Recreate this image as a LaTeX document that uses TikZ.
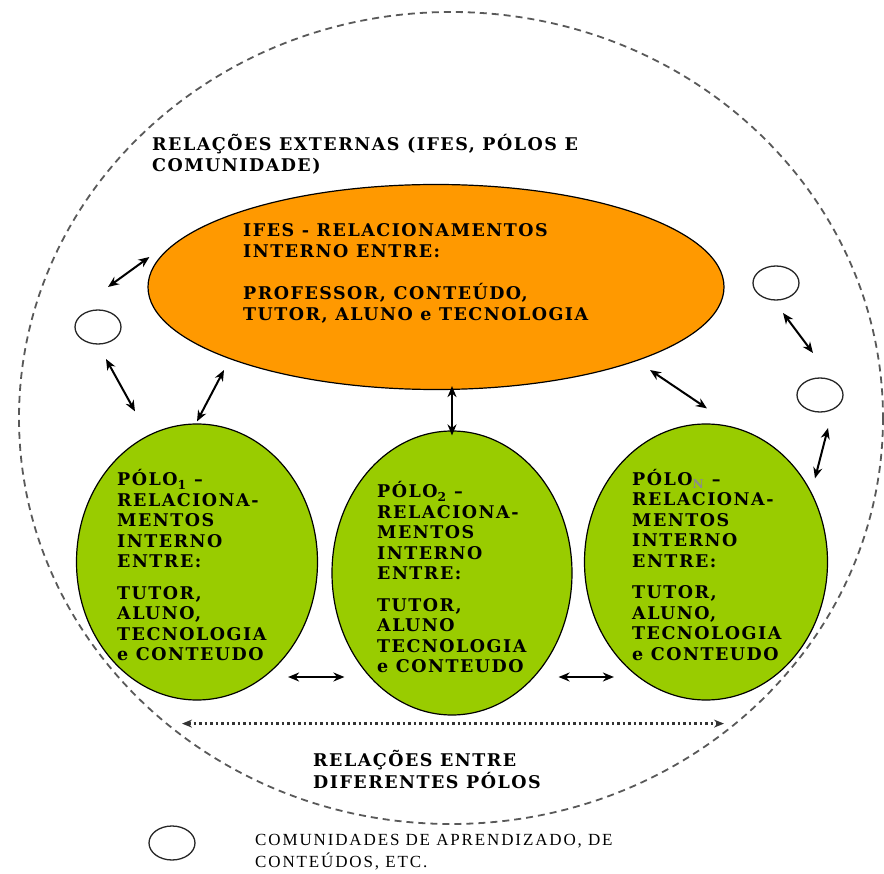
\documentclass[tikz,border=0pt]{standalone}
\usepackage{fontspec}
\usetikzlibrary{shapes.geometric,calc,arrows.meta}
\newfontfamily\slab[LetterSpace=8.5]{DejaVu Serif}
\newfontfamily\thinf[LetterSpace=11]{Liberation Serif}
\definecolor{orng}{HTML}{FF9900}
\definecolor{grn}{HTML}{99CC00}
\tikzset{
  bigov/.style={ellipse, draw=black, line width=1.2pt, inner sep=0pt},
  lbl/.style={anchor=north west, align=left, inner sep=0pt,
    font=\slab\bfseries\fontsize{17.5}{20.5}\selectfont},
  ring/.style={ellipse, draw=black!85, line width=1.3pt, minimum width=46pt, minimum height=34pt, inner sep=0pt},
  dbl/.style={{Stealth[length=11pt,width=9pt]}-{Stealth[length=11pt,width=9pt]}, line width=2pt},
}
\begin{document}
\begin{tikzpicture}[x=1pt,y=-1pt]
\useasboundingbox (0,0) rectangle (884,874);
% outer dashed boundary
\draw[black!65, line width=1.8pt, dash pattern=on 7pt off 5pt] (451,418) ellipse [x radius=432, y radius=406];

% main shapes
\node[bigov, fill=orng, minimum width=576pt, minimum height=205pt] (ifes) at (436,287) {};
\node[bigov, fill=grn, minimum width=241pt, minimum height=276pt] (p1) at (197,562) {};
\node[bigov, fill=grn, minimum width=240pt, minimum height=284pt] (p2) at (452,573) {};
\node[bigov, fill=grn, minimum width=243pt, minimum height=276pt] (pn) at (706,562) {};

% community rings
\node[ring] (c1) at (98,327) {};
\node[ring] (c2) at (776,283) {};
\node[ring] (c3) at (820,395) {};
\node[ring] (cl) at (172,843) {};

% texts
\node[lbl] (ttop) at (152,134.5) {RELAÇÕES EXTERNAS (IFES, PÓLOS E\\COMUNIDADE)};
\node[lbl, font=\slab\bfseries\fontsize{17.5}{21}\selectfont] (tifes) at (243,223) {IFES - RELACIONAMENTOS\\INTERNO ENTRE:\\[21pt]PROFESSOR, CONTEÚDO,\\TUTOR, ALUNO e TECNOLOGIA};
\node[lbl] (tp1) at (117,469.5) {PÓLO\textsubscript{1} –\\RELACIONA-\\MENTOS\\INTERNO\\ENTRE:\\[11pt] TUTOR,\\ALUNO,\\TECNOLOGIA\\e CONTEUDO};
\node[lbl] (tp2) at (377,481.5) {PÓLO\textsubscript{2} –\\RELACIONA-\\MENTOS\\INTERNO\\ENTRE:\\[11pt] TUTOR,\\ALUNO\\TECNOLOGIA\\e CONTEUDO};
\node[lbl] (tpn) at (632,469) {PÓLO\textsubscript{\color{black!45}N} –\\RELACIONA-\\MENTOS\\INTERNO\\ENTRE:\\[11pt] TUTOR,\\ALUNO,\\TECNOLOGIA\\e CONTEUDO};
\node[lbl, font=\slab\bfseries\fontsize{17.5}{22}\selectfont] (tbot) at (313,750.5) {RELAÇÕES ENTRE\\DIFERENTES PÓLOS};
\node[anchor=north west, align=left, inner sep=0pt, font=\thinf\fontsize{17}{22}\selectfont] (tleg) at (255,834.5) {COMUNIDADES DE APRENDIZADO, DE\\CONTEÚDOS, ETC.};

% connector end points (arrows stop short of the shapes)
\coordinate (a1s) at ($(c1)+(10,-40)$);
\coordinate (a1e) at ($(ifes.west)+(2,-30)$);
\coordinate (a2s) at ($(c1)+(8,32)$);
\coordinate (a2e) at ($(p1.north)+(-62,-12)$);
\coordinate (a3s) at ($(ifes)+(-212,83)$);
\coordinate (a3e) at ($(p1.north)+(0,-2)$);
\coordinate (a4s) at ($(ifes.south)+(16,-4)$);
\coordinate (a4e) at ($(p2.north)+(0,5)$);
\coordinate (a5s) at ($(ifes)+(214,83)$);
\coordinate (a5e) at ($(pn.north)+(1,-15)$);
\coordinate (a6s) at ($(c2)+(7,30)$);
\coordinate (a6e) at ($(c3)+(-7,-42)$);
\coordinate (a7s) at ($(c3)+(8,33)$);
\coordinate (a7e) at ($(pn.north)+(109,55)$);
\coordinate (a8s) at ($(p1.east)+(-30,115)$);
\coordinate (a8e) at ($(p2.west)+(13,104)$);
\coordinate (a9s) at ($(p2.east)+(-14,104)$);
\coordinate (a9e) at ($(pn.west)+(30,115)$);
\coordinate (ds) at ($(p1.south)+(-15,23)$);
\coordinate (de) at ($(pn.south)+(18,23)$);

\draw[dbl] (a1s) -- (a1e);
\draw[dbl] (a2s) -- (a2e);
\draw[dbl] (a3s) -- (a3e);
\draw[dbl] (a4s) -- (a4e);
\draw[dbl] (a5s) -- (a5e);
\draw[dbl] (a6s) -- (a6e);
\draw[dbl] (a7s) -- (a7e);
\draw[dbl] (a8s) -- (a8e);
\draw[dbl] (a9s) -- (a9e);
\draw[{Stealth[length=10pt,width=8pt]}-{Stealth[length=10pt,width=8pt]}, line width=2.4pt, black!80, dash pattern=on 2.5pt off 3pt] (ds) -- (de);
\end{tikzpicture}
\end{document}
